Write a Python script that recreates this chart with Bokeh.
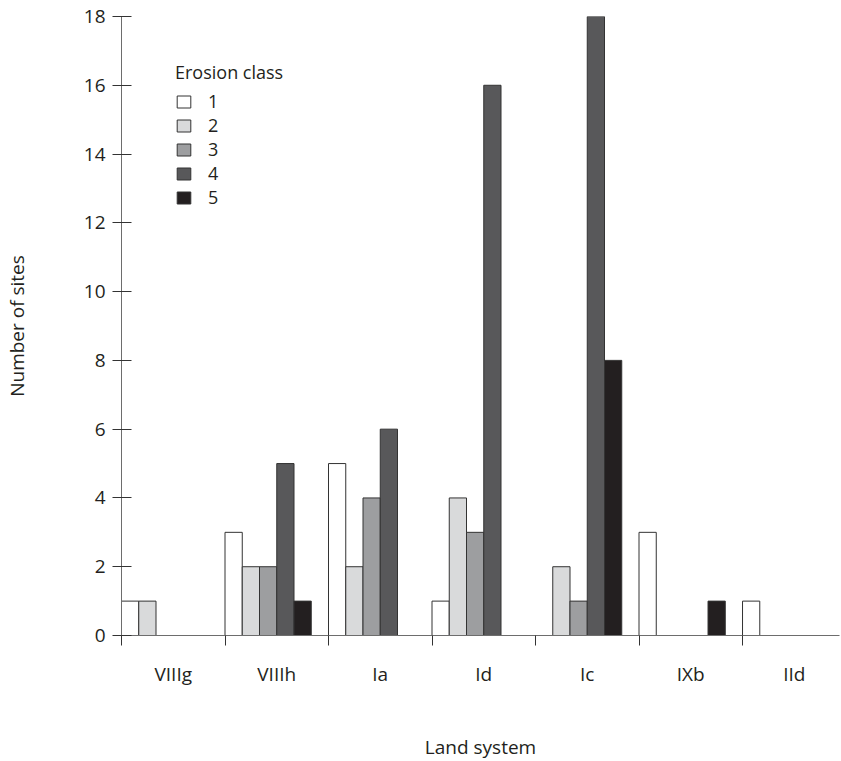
from bokeh.plotting import figure
from bokeh.models import Range1d, FixedTicker, ColumnDataSource, Legend, LegendItem
from bokeh.embed import file_html
from bokeh.resources import INLINE

# ---- data ----
land_systems = ["VIIIg", "VIIIh", "Ia", "Id", "Ic", "IXb", "IId"]
erosion_classes = ["1", "2", "3", "4", "5"]
class_1 = [1, 3, 5, 1, 0, 3, 1]
class_2 = [1, 2, 2, 4, 2, 0, 0]
class_3 = [0, 2, 4, 3, 1, 0, 0]
class_4 = [0, 5, 6, 16, 18, 0, 0]
class_5 = [0, 1, 0, 0, 8, 1, 0]
class_colors = ["#ffffff", "#d9dadb", "#9d9ea0", "#58585a", "#231f20"]
y_ticks = [0, 2, 4, 6, 8, 10, 12, 14, 16, 18]

series = [class_1, class_2, class_3, class_4, class_5]
FONT = "Open Sans"
TEXT = "#231f20"

p = figure(frame_width=718, frame_height=619,
           min_border_left=114, min_border_top=16, min_border_right=1,
           min_border_bottom=100,
           x_range=Range1d(0, 6.937), y_range=Range1d(0, 18),
           output_backend="svg", toolbar_location=None)

slot = 1.0 / 6.0
renderers = []
for k, (vals, col) in enumerate(zip(series, class_colors)):
    xs = [i + k * slot + slot / 2 for i, v in enumerate(vals) if v > 0]
    tops = [v for v in vals if v > 0]
    src = ColumnDataSource(dict(x=xs, top=tops))
    r = p.vbar(x="x", top="top", bottom=0, width=slot, source=src,
               fill_color=col, line_color="#333333", line_width=1)
    renderers.append(r)

legend = Legend(items=[LegendItem(label=c, renderers=[r]) for c, r in zip(erosion_classes, renderers)],
                location=(54, 426), title="Erosion class")
legend.title_text_font = FONT
legend.title_text_font_size = "18px"
legend.title_text_font_style = "normal"
legend.title_text_color = TEXT
legend.title_standoff = 5
legend.label_text_font = FONT
legend.label_text_font_size = "18px"
legend.label_text_color = TEXT
legend.glyph_width = 17
legend.glyph_height = 15
legend.label_standoff = 16
legend.spacing = -1
legend.padding = 0
legend.margin = 0
legend.border_line_color = None
legend.background_fill_alpha = 0
p.add_layout(legend)

# axes
xa = p.xaxis[0]
xa.ticker = FixedTicker(ticks=[i + 0.5 for i in range(len(land_systems))],
                        minor_ticks=list(range(len(land_systems) + 1)))
xa.major_label_overrides = {i + 0.5: n for i, n in enumerate(land_systems)}
xa.major_tick_out = 0
xa.major_tick_in = 0
xa.minor_tick_out = 10
xa.minor_tick_in = 0
xa.minor_tick_line_color = "#333333"
xa.axis_line_color = "#6d6d6d"
xa.major_label_standoff = 15
xa.axis_label = "Land system"
xa.axis_label_standoff = 44

ya = p.yaxis[0]
ya.ticker = FixedTicker(ticks=y_ticks)
ya.major_tick_in = 10
ya.major_tick_out = 9
ya.minor_tick_line_color = None
ya.major_tick_line_color = "#333333"
ya.axis_line_color = "#6d6d6d"
ya.major_label_standoff = 7
ya.axis_label = "Number of sites"
ya.axis_label_standoff = 51

for ax in (xa, ya):
    ax.major_label_text_font = FONT
    ax.major_label_text_font_size = "19px"
    ax.major_label_text_color = TEXT
    ax.axis_label_text_font = FONT
    ax.axis_label_text_font_size = "19px"
    ax.axis_label_text_font_style = "normal"
    ax.axis_label_text_color = TEXT

p.xgrid.grid_line_color = None
p.ygrid.grid_line_color = None
p.outline_line_color = None

open("out.html", "w").write(file_html(p, INLINE))
